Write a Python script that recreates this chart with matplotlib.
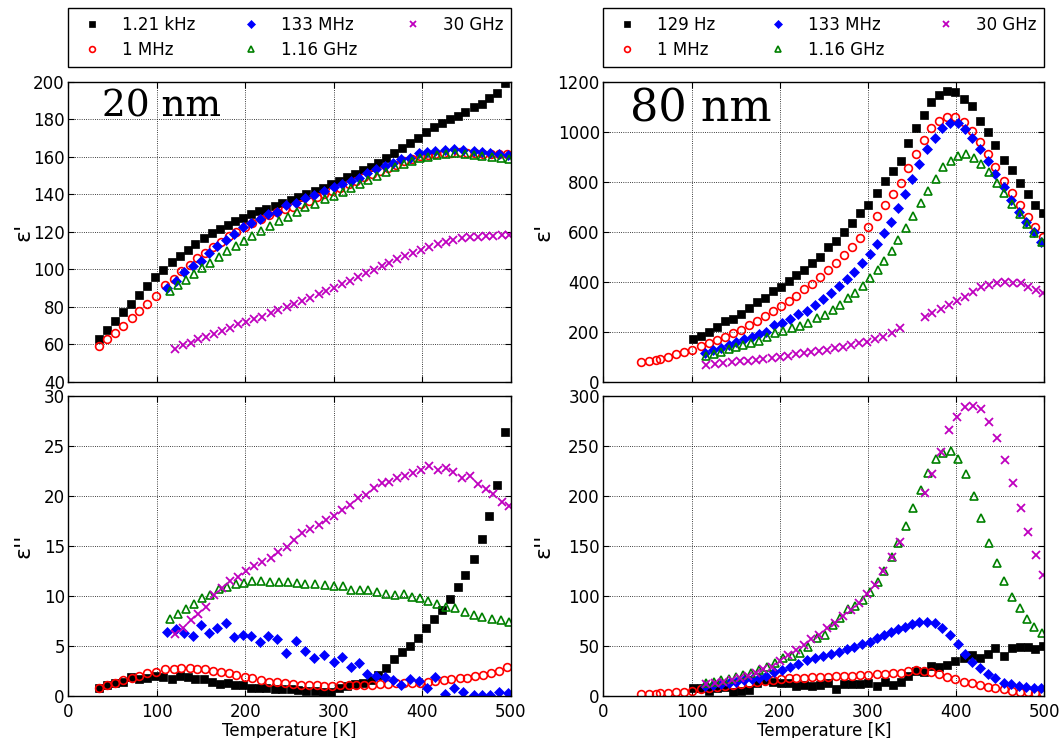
import matplotlib
matplotlib.use("Agg")
import matplotlib.pyplot as plt

# ---------------- 20 nm data ----------------
t20_black = [35, 44, 53, 62, 71, 80, 89, 98, 107, 117, 126, 135, 143, 153, 162, 171, 180, 188, 197, 206,
             216, 224, 234, 242, 252, 260, 269, 279, 288, 297, 306, 315, 324, 333, 342, 350, 359, 368, 377,
             386, 395, 404, 413, 422, 431, 440, 448, 458, 467, 476, 485, 494]
e1_20_black = [62.7, 67.6, 72.6, 77.1, 81.5, 86.0, 90.8, 95.6, 99.6, 103.6, 107.2, 110.3, 113.5, 116.5, 119.1,
               121.4, 123.6, 125.7, 127.5, 129.2, 130.8, 132.3, 133.9, 135.5, 136.9, 138.5, 140.0, 141.7, 143.5,
               145.5, 147.2, 149.0, 150.8, 152.9, 154.7, 156.8, 159.3, 161.8, 164.4, 167.1, 170.1, 173.2, 175.6,
               177.8, 180.1, 181.9, 184.0, 186.5, 188.3, 191.1, 194.1, 199.1]
e2_20_black = [0.77, 1.1, 1.27, 1.43, 1.93, 1.67, 1.83, 2.0, 1.93, 1.67, 2.0, 1.93, 1.7, 1.67, 1.43, 1.2, 1.33,
               1.1, 1.1, 0.83, 0.77, 0.77, 0.67, 0.67, 0.67, 0.6, 0.53, 0.53, 0.43, 0.43, 0.77, 1.0, 1.2, 1.33,
               1.6, 2.1, 2.77, 3.67, 4.43, 5.03, 5.83, 6.77, 7.67, 8.6, 9.67, 10.93, 12.1, 13.7, 15.7, 18.0,
               21.07, 26.43]

t20_red = [35, 44, 53, 62, 72, 80, 89, 99, 109, 119, 127, 137, 146, 155, 164, 173, 182, 190, 200, 208, 218,
           227, 236, 245, 254, 263, 272, 281, 289, 298, 307, 317, 325, 334, 343, 352, 361, 370, 379, 388, 398,
           406, 415, 425, 433, 443, 451, 460, 469, 478, 487, 496]
e1_20_red = [58.8, 62.7, 66.2, 69.8, 73.9, 77.6, 81.4, 85.8, 91.6, 95.0, 98.8, 102.2, 105.8, 108.8, 112.0, 114.7,
             117.7, 119.8, 122.7, 124.6, 126.6, 128.7, 130.7, 132.2, 133.3, 134.6, 136.5, 138.5, 140.0, 141.8,
             143.5, 145.5, 147.2, 149.0, 150.8, 152.6, 154.2, 155.8, 157.5, 159.0, 160.3, 161.0, 161.6, 162.0,
             162.2, 162.3, 162.1, 161.9, 161.6, 161.4, 161.3, 161.3]
e2_20_red = [0.77, 1.1, 1.33, 1.6, 1.83, 2.03, 2.27, 2.43, 2.67, 2.73, 2.8, 2.8, 2.73, 2.7, 2.53, 2.4, 2.27, 2.07,
             1.93, 1.77, 1.6, 1.43, 1.37, 1.27, 1.2, 1.1, 1.1, 1.07, 1.03, 1.03, 1.07, 1.1, 1.1, 1.1, 1.1, 1.17,
             1.2, 1.27, 1.27, 1.33, 1.33, 1.43, 1.5, 1.6, 1.67, 1.77, 1.83, 2.0, 2.1, 2.27, 2.53, 2.87]

t20_blue = [112, 122, 131, 141, 150, 159, 168, 178, 187, 197, 206, 217, 226, 236, 246, 257, 267, 278, 289, 300,
            309, 319, 329, 338, 348, 358, 367, 376, 386, 396, 405, 415, 426, 436, 446, 458, 467, 477, 487, 497]
e1_20_blue = [89.8, 93.9, 98.3, 101.7, 104.5, 108.6, 112.4, 115.6, 118.8, 122.3, 124.6, 126.6, 129.2, 130.7,
              134.4, 135.1, 137.8, 139.8, 141.9, 144.0, 145.4, 147.2, 148.8, 151.1, 153.6, 155.0, 156.4, 158.6,
              159.3, 161.8, 162.7, 162.8, 163.6, 164.1, 163.6, 163.2, 162.5, 162.1, 161.4, 161.0]
e2_20_blue = [6.43, 6.67, 6.27, 6.0, 7.1, 6.27, 6.77, 7.33, 5.93, 6.1, 6.0, 5.43, 6.0, 5.67, 4.27, 5.5, 4.53,
              3.83, 4.1, 3.43, 3.87, 2.93, 3.33, 2.2, 2.0, 1.93, 1.6, 1.07, 1.67, 1.5, 0.77, 1.93, 0.2, 0.77,
              0.43, 0.1, 0.1, 0.1, 0.43, 0.27]

t20_green = [115, 124, 133, 142, 151, 160, 170, 179, 189, 199, 208, 218, 228, 238, 248, 258, 268, 279, 290, 300,
             310, 320, 330, 339, 349, 359, 369, 379, 388, 398, 407, 417, 427, 437, 448, 458, 468, 479, 489, 498]
e1_20_green = [88.5, 91.4, 94.4, 97.4, 100.4, 103.2, 106.7, 109.5, 112.5, 115.0, 117.9, 120.4, 123.0, 125.9,
               128.0, 130.7, 133.0, 134.8, 137.2, 139.0, 141.2, 143.1, 145.4, 147.6, 149.7, 152.0, 154.7, 155.9,
               157.7, 159.5, 160.0, 160.9, 161.4, 161.8, 161.4, 161.1, 160.4, 160.0, 159.5, 158.6]
e2_20_green = [7.67, 8.17, 8.67, 9.2, 9.77, 10.1, 10.67, 10.93, 11.17, 11.27, 11.5, 11.5, 11.43, 11.37, 11.43,
               11.27, 11.2, 11.2, 11.1, 11.0, 11.0, 10.6, 10.6, 10.6, 10.37, 10.2, 10.1, 10.17, 9.93, 9.77, 9.5,
               9.17, 8.93, 8.77, 8.43, 8.1, 7.87, 7.67, 7.6, 7.43]

t20_mag = [121, 130, 139, 147, 156, 165, 174, 183, 192, 201, 210, 219, 229, 237, 247, 255, 264, 273, 283, 291,
           300, 309, 318, 327, 336, 345, 354, 363, 372, 381, 390, 399, 408, 418, 427, 435, 445, 454, 463, 472,
           480, 490, 498]
e1_20_mag = [57.2, 59.6, 60.8, 62.6, 64.0, 65.2, 67.0, 68.8, 70.6, 72.0, 73.3, 74.7, 76.4, 78.2, 79.6, 81.2,
             83.0, 84.8, 86.6, 88.4, 90.1, 91.9, 93.7, 96.0, 97.8, 99.6, 101.7, 103.5, 105.4, 107.2, 108.8,
             110.2, 112.0, 113.4, 114.7, 115.6, 116.4, 117.0, 117.3, 117.7, 117.9, 118.0, 118.2]
e2_20_mag = [6.2, 6.77, 7.6, 8.17, 8.93, 10.1, 10.77, 11.5, 11.93, 12.5, 13.0, 13.37, 13.83, 14.37, 14.93, 15.6,
             16.33, 16.7, 17.1, 17.6, 18.0, 18.6, 19.1, 19.77, 20.1, 20.83, 21.27, 21.43, 21.77, 22.0, 22.33,
             22.6, 23.03, 22.6, 22.77, 22.43, 21.83, 22.03, 21.17, 20.67, 20.17, 19.43, 19.0]

# ---------------- 80 nm data ----------------
t80_black = [102, 111, 120, 129, 138, 147, 156, 165, 174, 183, 192, 201, 210, 219, 228, 237, 246, 255, 264, 273,
             282, 291, 300, 310, 319, 328, 337, 346, 355, 364, 372, 381, 390, 399, 409, 418, 427, 436, 444, 454,
             463, 472, 481, 490, 499]
e1_80_black = [169, 184, 200, 217, 241, 249, 271, 293, 317, 336, 363, 380, 404, 428, 447, 476, 500, 540, 563,
               597, 636, 673, 707, 756, 803, 844, 883, 953, 1013, 1065, 1119, 1147, 1161, 1157, 1129, 1103, 1043,
               999, 947, 887, 847, 796, 749, 707, 676]
e2_80_black = [7.7, 7.7, 5.3, 7.7, 9.3, 4.3, 5.3, 6.0, 13.3, 16, 14.3, 12.7, 13.3, 10, 11, 10, 11, 13.3, 6.7,
               11.7, 11.7, 12, 12.7, 10, 14.3, 11, 14.3, 20, 25.3, 24.3, 30, 28.7, 31, 35, 37.7, 41, 37.7, 42,
               47.7, 40, 47.7, 49.3, 49.3, 46.7, 50]

t80_red = [43, 52, 60, 64, 73, 82, 91, 100, 111, 120, 129, 138, 147, 156, 165, 174, 183, 192, 201, 210, 219, 228,
           237, 246, 255, 264, 273, 282, 291, 300, 310, 319, 328, 337, 346, 355, 364, 372, 381, 390, 399, 409,
           418, 427, 436, 444, 454, 463, 472, 481, 490, 499]
e1_80_red = [80, 84, 88, 92, 100, 109, 117, 127, 143, 153, 167, 180, 193, 207, 225, 244, 264, 284, 304, 323, 344,
             369, 392, 417, 445, 476, 507, 540, 576, 617, 663, 708, 751, 796, 853, 911, 967, 1013, 1044, 1060,
             1057, 1037, 1003, 957, 909, 857, 804, 753, 707, 660, 620, 580]
e2_80_red = [1.7, 2, 2.3, 2.7, 3.3, 3.7, 4.3, 5.3, 6.7, 7.7, 8.7, 10, 11, 12, 12.7, 14.3, 15.3, 16, 16.7, 17.7,
             18.3, 18.3, 18.7, 19, 19.3, 19.7, 20, 20.3, 20.7, 21.3, 22, 22.3, 22.7, 22.7, 24.7, 26, 25, 24.3, 22,
             19.3, 16.7, 14.3, 12.7, 11, 9.3, 7.7, 6.7, 5.3, 4.3, 3.7, 3.3, 2.7]

t80_blue = [115, 124, 133, 142, 151, 160, 169, 177, 185, 194, 203, 212, 221, 231, 240, 249, 258, 267, 276, 284,
            293, 302, 310, 318, 326, 334, 342, 350, 358, 367, 376, 384, 393, 402, 410, 418, 427, 436, 444, 454,
            462, 471, 479, 488, 496]
e1_80_blue = [116, 127, 136, 147, 160, 169, 180, 189, 200, 227, 236, 249, 271, 283, 307, 329, 356, 383, 411, 440,
              476, 509, 551, 593, 640, 693, 751, 811, 871, 929, 976, 1013, 1036, 1033, 1011, 976, 931, 883, 829,
              777, 727, 680, 640, 597, 560]
e2_80_blue = [10, 11, 12, 13.3, 14.3, 16, 17, 18.3, 20, 24.3, 26, 28.7, 32, 36, 37.7, 40.3, 42, 44.3, 46.7, 49.3,
              52, 54.3, 57.7, 60.7, 63.7, 66.7, 69.3, 72, 74.3, 74.3, 72.7, 68.3, 61, 52, 42, 33.7, 27.7, 22,
              17.7, 13.3, 11.7, 10, 8.7, 7.7, 7.7]

t80_green = [116, 125, 133, 142, 151, 158, 168, 177, 186, 195, 204, 214, 223, 232, 242, 251, 260, 268, 277, 285,
             294, 302, 311, 318, 327, 334, 343, 351, 360, 368, 377, 385, 394, 402, 411, 420, 428, 437, 446, 454,
             463, 472, 480, 488, 497]
e1_80_green = [104, 111, 119, 129, 140, 147, 156, 164, 180, 193, 204, 213, 223, 236, 253, 267, 287, 307, 333, 353,
               383, 413, 447, 483, 523, 567, 616, 664, 716, 764, 812, 857, 884, 904, 909, 896, 869, 837, 796, 753,
               711, 671, 631, 593, 560]
e2_80_green = [12.7, 14.3, 16, 17, 19.3, 21, 22.7, 26, 29.3, 33.3, 37.7, 40, 43.3, 49.3, 57.7, 61, 71, 77.7, 86.7,
               90, 96, 104.3, 114.3, 125.3, 139.3, 153.3, 170, 187.7, 206, 223.3, 236.7, 243.3, 245.3, 236.7,
               221.7, 200, 177.7, 153.3, 132.7, 115.3, 99.3, 87.7, 76.7, 69.3, 62.7]

t80_mag = [117, 127, 136, 146, 155, 164, 173, 181, 191, 200, 209, 218, 227, 236, 245, 254, 263, 272, 281, 290, 299,
           308, 317, 327, 336, 365, 373, 383, 392, 401, 410, 419, 428, 437, 446, 455, 464, 474, 482, 491, 499]
e1_80_mag = [67, 71, 76, 79, 81, 84, 87, 91, 96, 100, 104, 109, 113, 117, 123, 127, 133, 140, 147, 153, 160, 169,
             180, 193, 213, 257, 273, 289, 307, 324, 340, 357, 377, 387, 393, 397, 393, 393, 380, 367, 356]
e2_80_mag = [12, 12.7, 14.3, 16, 18.3, 20.3, 22.7, 26.7, 29.3, 35, 41, 46, 51, 56.7, 61, 67.7, 73.3, 80, 86, 93.3,
             101.7, 111, 125.3, 139.3, 153.7, 202.7, 221.7, 244.3, 266, 279.3, 288.7, 290, 287.3, 274.3, 257.7,
             236, 212.7, 187.7, 164.3, 141, 121]

labels_20 = ["1.21 kHz", "1 MHz", "133 MHz", "1.16 GHz", "30 GHz"]
labels_80 = ["129 Hz", "1 MHz", "133 MHz", "1.16 GHz", "30 GHz"]
x_ticks = [0, 100, 200, 300, 400, 500]

styles = [
    dict(marker='s', color='k', mfc='k', mec='k', ms=5.8, mew=0.5),
    dict(marker='o', color='r', mfc='none', mec='r', ms=5.6, mew=1.2),
    dict(marker='D', color='b', mfc='b', mec='b', ms=5.6, mew=0.5),
    dict(marker='^', color='g', mfc='none', mec='g', ms=6.0, mew=1.2),
    dict(marker='x', color=(0.75, 0, 0.75), mec=(0.75, 0, 0.75), ms=5.4, mew=1.3),
]

fig = plt.figure(figsize=(10.62, 7.38), dpi=100)
W, H = 1062.0, 738.0


def make_ax(x0, x1, y0, y1):
    return fig.add_axes([x0 / W, 1 - y1 / H, (x1 - x0) / W, (y1 - y0) / H])


ax1 = make_ax(68.3, 510.7, 81.7, 381.7)
ax3 = make_ax(68.3, 510.7, 396.0, 696.0)
ax2 = make_ax(603.3, 1044.3, 81.7, 381.7)
ax4 = make_ax(603.3, 1044.3, 396.0, 696.0)

series20_top = [(t20_black, e1_20_black), (t20_red, e1_20_red), (t20_blue, e1_20_blue),
                (t20_green, e1_20_green), (t20_mag, e1_20_mag)]
series20_bot = [(t20_black, e2_20_black), (t20_red, e2_20_red), (t20_blue, e2_20_blue),
                (t20_green, e2_20_green), (t20_mag, e2_20_mag)]
series80_top = [(t80_black, e1_80_black), (t80_red, e1_80_red), (t80_blue, e1_80_blue),
                (t80_green, e1_80_green), (t80_mag, e1_80_mag)]
series80_bot = [(t80_black, e2_80_black), (t80_red, e2_80_red), (t80_blue, e2_80_blue),
                (t80_green, e2_80_green), (t80_mag, e2_80_mag)]


def draw(ax, series, labels):
    handles = []
    for (t, v), st, lab in zip(series, styles, labels):
        h, = ax.plot(t, v, linestyle='none', label=lab, **st)
        handles.append(h)
    return handles


h20 = draw(ax1, series20_top, labels_20)
draw(ax3, series20_bot, labels_20)
h80 = draw(ax2, series80_top, labels_80)
draw(ax4, series80_bot, labels_80)

ax1.set_ylim(40, 200)
ax1.set_yticks(range(40, 201, 20))
ax3.set_ylim(0, 30)
ax3.set_yticks(range(0, 31, 5))
ax2.set_ylim(0, 1200)
ax2.set_yticks(range(0, 1201, 200))
ax4.set_ylim(0, 300)
ax4.set_yticks(range(0, 301, 50))

for ax in (ax1, ax2, ax3, ax4):
    ax.set_xlim(0, 500)
    ax.set_xticks(x_ticks)
    ax.grid(True, color='k', linestyle=':', linewidth=0.6)
    ax.set_axisbelow(True)
    ax.tick_params(direction='in', top=True, right=True, length=4, width=0.8, labelsize=12)
    ax.tick_params(axis='x', pad=5)
    ax.tick_params(axis='y', pad=2.5)
    for s in ax.spines.values():
        s.set_linewidth(1.0)
        s.set_color('k')

for ax in (ax1, ax2):
    ax.tick_params(labelbottom=False)

for ax in (ax3, ax4):
    ax.set_xlabel("Temperature [K]", fontsize=12, labelpad=0.5)

ax1.set_ylabel("ε'", fontsize=16)
ax3.set_ylabel("ε''", fontsize=16)
ax2.set_ylabel("ε'", fontsize=16)
ax4.set_ylabel("ε''", fontsize=16)
ax1.yaxis.set_label_coords(-0.079, 0.5)
ax3.yaxis.set_label_coords(-0.079, 0.5)
ax2.yaxis.set_label_coords(-0.112, 0.5)
ax4.yaxis.set_label_coords(-0.112, 0.5)

ax1.text(0.0755, 0.883, "20 nm", transform=ax1.transAxes, fontsize=27,
         family='DejaVu Serif', ha='left', va='baseline')
ax2.text(0.0605, 0.867, "80 nm", transform=ax2.transAxes, fontsize=32,
         family='DejaVu Serif', ha='left', va='baseline')

for ax, hs, labs in ((ax1, h20, labels_20), (ax2, h80, labels_80)):
    leg = ax.legend(hs, labs, ncol=3, loc='lower left', bbox_to_anchor=(0, 1.05, 1, 0.18),
                    mode='expand', borderaxespad=0, numpoints=1, fancybox=False,
                    fontsize=12, markerscale=0.75, framealpha=1, handletextpad=0.8,
                    labelspacing=0.45, borderpad=0.45)
    leg.get_frame().set_edgecolor('k')
    leg.get_frame().set_linewidth(1.0)

fig.savefig("out.png", dpi=100)
